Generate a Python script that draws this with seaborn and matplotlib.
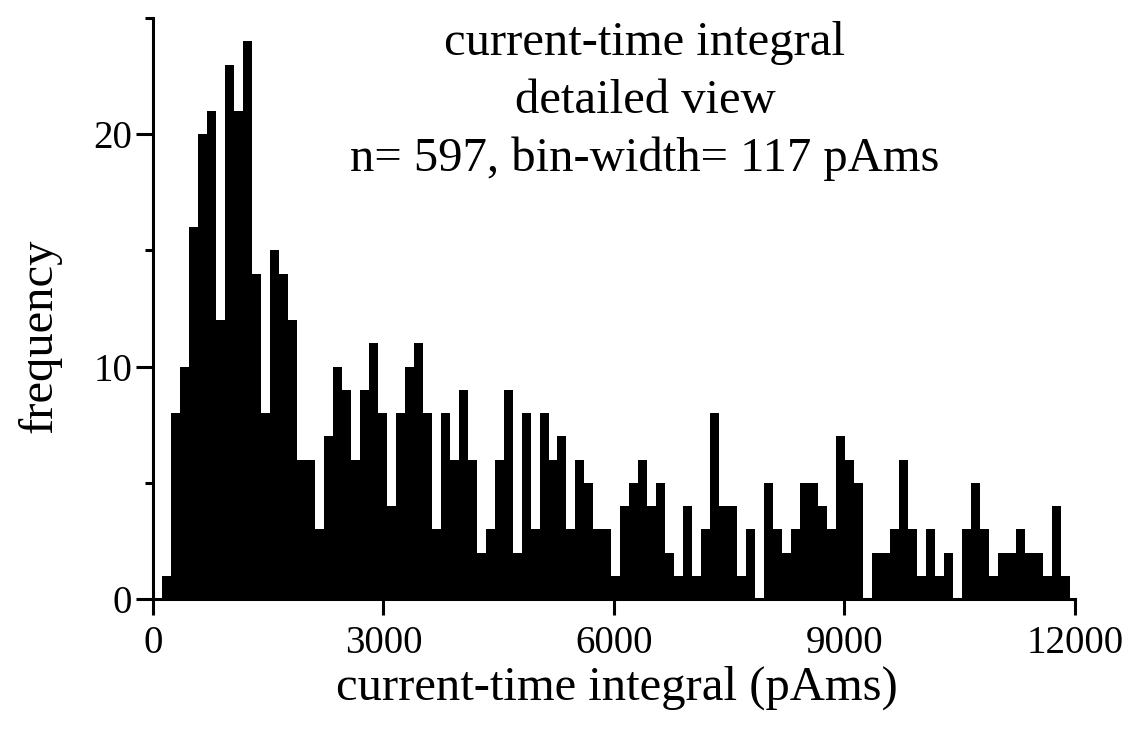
import numpy as np
import pandas as pd
import matplotlib
matplotlib.use("Agg")
import matplotlib.pyplot as plt
import seaborn as sns

# histogram counts per bin, bins of 117 pAms starting at 117
bin_width = 117
bin_start = 117
counts = [1, 8, 10, 16, 20, 21, 12, 23, 21, 24, 14, 8, 15, 14, 12, 6, 6, 3, 7, 10, 9, 6, 9, 11,
          8, 4, 8, 10, 11, 8, 3, 8, 6, 9, 6, 2, 3, 6, 9, 2, 8, 3, 8, 6, 7, 3, 6, 5, 3, 3,
          1, 4, 5, 6, 4, 5, 2, 1, 4, 1, 3, 8, 4, 4, 1, 3, 0, 5, 3, 2, 3, 5, 5, 4, 3, 7,
          6, 5, 0, 2, 2, 3, 6, 3, 1, 3, 1, 2, 0, 3, 5, 3, 1, 2, 2, 3, 2, 2, 1, 4, 1]
x_ticks = [0, 3000, 6000, 9000, 12000]
y_ticks = [0, 10, 20]
y_minor = [5, 15, 25]

edges = [bin_start + bin_width * i for i in range(len(counts) + 1)]
df = pd.DataFrame({
    "center": [(edges[i] + edges[i + 1]) / 2 for i in range(len(counts))],
    "count": counts,
})

sns.set_theme(style="ticks")
plt.rcParams['font.family'] = ['Liberation Serif', 'DejaVu Serif']
plt.rcParams['text.color'] = 'black'
plt.rcParams['axes.labelcolor'] = 'black'

fig = plt.figure(figsize=(11.33, 7.39), dpi=100)
ax = fig.add_axes([0.135, 0.1894, 0.8138, 0.7862])

sns.histplot(data=df, x="center", weights="count", bins=edges, element="step", fill=True,
             color="black", alpha=1, linewidth=0, ax=ax)

ax.set_xlim(0, 12000)
ax.set_ylim(0, 25)
ax.set_xticks(x_ticks)
ax.set_xticklabels([str(t) for t in x_ticks])
ax.set_yticks(y_ticks)
ax.set_yticks(y_minor, minor=True)

sns.despine(ax=ax)
for s in ["left", "bottom"]:
    ax.spines[s].set_linewidth(2.2)
    ax.spines[s].set_color("black")

ax.tick_params(axis="x", which="major", length=11.5, width=2.2, pad=7,
               labelsize=28, colors="black")
ax.tick_params(axis="y", which="major", length=12, width=2.2, pad=3,
               labelsize=28, colors="black")
ax.tick_params(axis="y", which="minor", length=6, width=2.2, colors="black")

ax.set_xlabel("current-time integral (pAms)", fontsize=35, color="black")
ax.set_ylabel("frequency", fontsize=35, color="black")
ax.xaxis.set_label_coords(0.503, -0.115)
ax.yaxis.set_label_coords(-0.099, 0.454)

fig.text(645 / 1133, 1 - 21 / 739,
         "current-time integral\ndetailed view\nn= 597, bin-width= 117 pAms",
         ha="center", va="top", fontsize=35, linespacing=1.4)

fig.savefig("out.png", dpi=100)
